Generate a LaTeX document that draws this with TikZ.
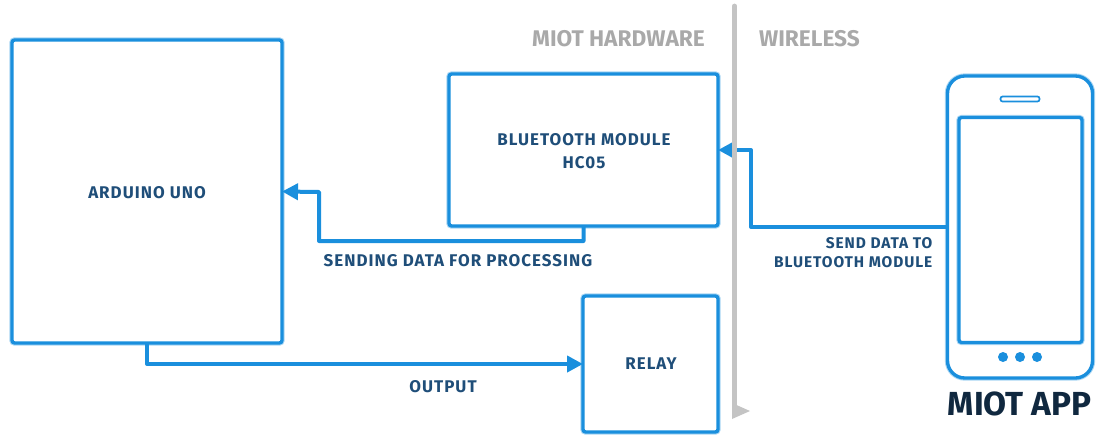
\documentclass[tikz,border=0pt]{standalone}
\usepackage{fontspec}
\setmainfont{Fira Sans}
\newfontfamily\labelfont[LetterSpace=6,Scale=1]{Fira Sans}
\usepackage{xcolor}
\usetikzlibrary{calc,arrows.meta}
\definecolor{wire}{HTML}{1A8FDD}
\definecolor{halo}{HTML}{A9D6F3}
\definecolor{ink}{HTML}{1F4E79}
\definecolor{title}{HTML}{10283F}
\definecolor{rule}{HTML}{C4C4C4}
\definecolor{muted}{HTML}{A9A9A9}
\def\u{0.75pt}
\tikzset{
  box/.style={draw=wire, line width=2.5pt, fill=white, inner sep=0pt, outer sep=0pt, rounded corners=2pt,
    preaction={draw=halo, line width=4pt}},
  slot/.style={draw=wire, line width=1.3pt, fill=white, inner sep=0pt, outer sep=0pt, rounded corners=1.6pt},
  link/.style={draw=wire, line width=3pt, line join=round, -{Triangle[length=12pt,width=12pt]}},
  lbl/.style={text=ink, font=\labelfont\bfseries\fontsize{12.7}{17.2}\selectfont, align=center},
  zone/.style={text=muted, font=\bfseries\fontsize{17}{19}\selectfont},
  dot/.style={circle, fill=wire, inner sep=0pt, minimum size=10*\u}
}
\begin{document}
\begin{tikzpicture}[x=\u, y=-\u]
  \useasboundingbox (0,0) rectangle (1098,436);

  \node[box, minimum width=270*\u, minimum height=303*\u] (uno) at (147,191.5) {};
  \node[box, minimum width=269*\u, minimum height=152*\u] (hc05) at (583.5,150) {};
  \node[box, minimum width=135*\u, minimum height=136*\u] (relay) at (650.5,364) {};
  \node[box, rounded corners=13pt, minimum width=145*\u, minimum height=302*\u] (phone) at (1020,227) {};
  \node[box, minimum width=123*\u, minimum height=225*\u] (screen) at (1020.5,230) {};
  \node[slot, minimum width=39*\u, minimum height=5*\u] (speaker) at (1020,99) {};
  \node[dot] (dotA) at (1003,357) {};
  \node[dot] (dotB) at (1020,357) {};
  \node[dot] (dotC) at (1037,357) {};

  \coordinate (sendB) at (319,241);
  \coordinate (sendC) at (319,192);
  \coordinate (airB) at (751,150);

  \draw[link] (hc05.south) |- (sendB) -- (sendC) -- (uno.east);
  \draw[link] (uno.south) |- (relay.west);
  \draw[link] (phone.west) -| (airB) -- (hc05.east);

  % divider between the two zones
  \coordinate (ruleA) at (734.5,6);
  \coordinate (ruleB) at (734.5,410);
  \draw[draw=rule, line width=3.6pt, line cap=round] (ruleA) -- (ruleB);
  \fill[rule] (732,403) -- (750,411) -- (732,419) -- cycle;

  \node[lbl] (unoText) at (147,193) {ARDUINO UNO};
  \node[lbl] (hcText) at (584,151.5) {BLUETOOTH MODULE\\HC05};
  \node[lbl] (relayText) at (651,364) {RELAY};
  \node[lbl] (sendText) at (458,261) {SENDING DATA FOR PROCESSING};
  \node[lbl] (outText) at (443,387) {OUTPUT};
  \node[lbl, align=right, anchor=east, font=\labelfont\bfseries\fontsize{11.6}{14.2}\selectfont] (airText) at (937,253) {SEND DATA TO\\BLUETOOTH MODULE};
  \node[zone] (hwText) at (618.5,39) {MIOT HARDWARE};
  \node[zone] (wlText) at (809.5,39) {WIRELESS};
  \node[text=title, font=\bfseries\fontsize{25}{28}\selectfont] (appText) at (1019.5,404) {MIOT APP};
\end{tikzpicture}
\end{document}
